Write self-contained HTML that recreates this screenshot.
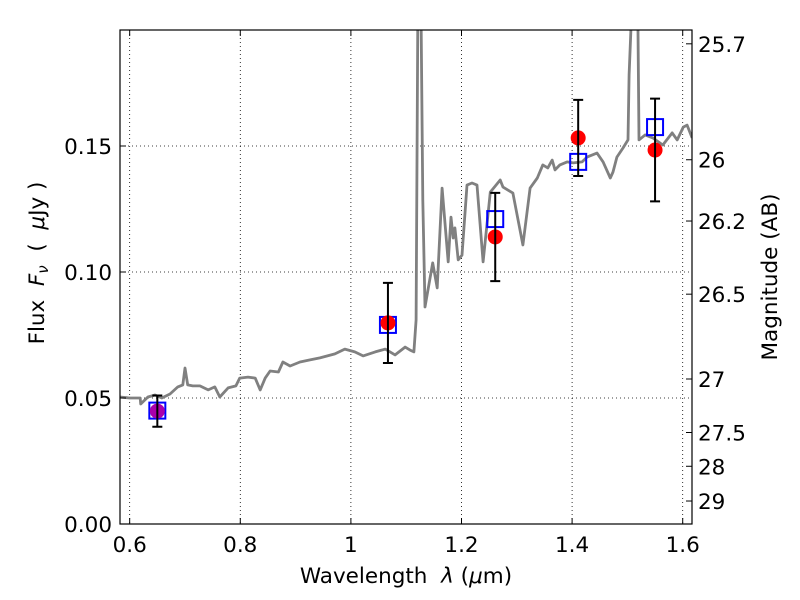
<!DOCTYPE html>
<html><head><meta charset="utf-8"><style>
html,body{margin:0;padding:0;background:#fff;}
svg{display:block;font-family:"DejaVu Sans","Liberation Sans",sans-serif;}
</style></head><body>
<svg id="chart" width="800" height="600" viewBox="0 0 800 600">
<defs><clipPath id="clip"><rect x="120" y="30" width="572" height="494"/></clipPath></defs>
<rect x="0" y="0" width="800" height="600" fill="#fff"/>
<g id="grid"></g>
<g id="spec" clip-path="url(#clip)"></g>
<g id="phot"></g>
<rect x="120" y="30" width="572" height="494" fill="none" stroke="#000" stroke-width="1.2"/>
<g id="axes"></g>
<text x="44" y="263" font-size="21.5" text-anchor="middle" xml:space="preserve" style="white-space:pre" transform="rotate(-90 44 263)">Flux  <tspan font-style="italic">F</tspan><tspan font-style="italic" font-size="15" dy="4">ν</tspan><tspan dy="-4">  (  </tspan><tspan font-style="italic">μ</tspan>Jy )</text>
<text x="406" y="583" font-size="21.5" text-anchor="middle" xml:space="preserve" style="white-space:pre">Wavelength  <tspan font-style="italic">λ</tspan> (<tspan font-style="italic">μ</tspan>m)</text>
<text x="777" y="277" font-size="21.5" text-anchor="middle" transform="rotate(-90 777 277)">Magnitude (AB)</text>
</svg>
<script>
const specLam=[0.582,0.600,0.619,0.620,0.633,0.646,0.658,0.673,0.687,0.696,0.700,0.705,0.714,0.727,0.742,0.754,0.763,0.778,0.792,0.799,0.814,0.827,0.836,0.845,0.854,0.869,0.877,0.890,0.908,0.926,0.944,0.971,0.989,1.007,1.022,1.044,1.062,1.080,1.098,1.107,1.114,1.118,1.121,1.127,1.130,1.134,1.148,1.156,1.165,1.176,1.181,1.185,1.188,1.194,1.201,1.210,1.219,1.228,1.239,1.252,1.270,1.275,1.293,1.311,1.324,1.337,1.347,1.356,1.364,1.369,1.378,1.391,1.402,1.418,1.427,1.445,1.456,1.469,1.474,1.481,1.492,1.501,1.503,1.507,1.519,1.521,1.532,1.546,1.564,1.581,1.590,1.601,1.608,1.617];
const specFlux=[0.0504,0.0500,0.0500,0.0476,0.0504,0.0512,0.0500,0.0516,0.0544,0.0552,0.0619,0.0552,0.0548,0.0548,0.0532,0.0544,0.0504,0.0540,0.0548,0.0579,0.0583,0.0579,0.0532,0.0579,0.0607,0.0603,0.0643,0.0627,0.0643,0.0651,0.0659,0.0675,0.0694,0.0683,0.0667,0.0683,0.0694,0.0671,0.0702,0.0690,0.0683,0.0810,0.200,0.200,0.1286,0.0861,0.1036,0.0937,0.1333,0.1040,0.1218,0.1135,0.1175,0.1048,0.1067,0.1345,0.1353,0.1345,0.1040,0.1317,0.1365,0.1337,0.1313,0.1107,0.1333,0.1373,0.1425,0.1413,0.1444,0.1405,0.1425,0.1437,0.1433,0.1437,0.1456,0.1472,0.1437,0.1373,0.1397,0.1456,0.1492,0.1524,0.1782,0.200,0.200,0.1524,0.1544,0.1532,0.1504,0.1552,0.1524,0.1575,0.1583,0.1532];
const photLam=[0.650,1.067,1.261,1.411,1.550];
const obsFlux=[0.0448,0.0798,0.1139,0.1532,0.1484];
const obsErr=[0.0062,0.0159,0.0175,0.0151,0.0204];
const modelFlux=[0.0450,0.0790,0.1210,0.1437,0.1575];
const obsColors=['#aa00aa','#ff0000','#ff0000','#ff0000','#ff0000'];
const xTicks=[0.6,0.8,1.0,1.2,1.4,1.6];
const xTickLabels=['0.6','0.8','1','1.2','1.4','1.6'];
const yTicks=[0,0.05,0.10,0.15];
const yTickLabels=['0.00','0.05','0.10','0.15'];
const magTicks=[25.7,26,26.2,26.5,27,27.5,28,29];
const magLabels=['25.7','26','26.2','26.5','27','27.5','28','29'];

const X0=120,X1=692,Y0=30,Y1=524;
const xMin=0.5825,xMax=1.6168,yMin=0,yMax=0.19603;
const sx=v=>X0+(v-xMin)/(xMax-xMin)*(X1-X0);
const sy=v=>Y1-(v-yMin)/(yMax-yMin)*(Y1-Y0);
const magToFlux=m=>Math.pow(10,(23.9-m)/2.5);
const NS='http://www.w3.org/2000/svg';
function mk(tag,attrs,parent){const e=document.createElementNS(NS,tag);for(const k in attrs)e.setAttribute(k,attrs[k]);parent.appendChild(e);return e;}
const grid=document.getElementById('grid'),axes=document.getElementById('axes'),spec=document.getElementById('spec'),phot=document.getElementById('phot');

xTicks.forEach((t,i)=>{
  const x=sx(t);
  const g=mk('line',{x1:x,x2:x,y1:Y0,y2:Y1,stroke:'#000','stroke-width':0.8,'stroke-dasharray':'1,3'},grid);
  
  
  const a=mk('line',{x1:x,x2:x,y1:Y1,y2:Y1-6,stroke:'#000','stroke-width':1},axes);
  
  
  const b=mk('line',{x1:x,x2:x,y1:Y0,y2:Y0+6,stroke:'#000','stroke-width':1},axes);
  
  
  const l=mk('text',{x:x,y:552,'font-size':21.5,'text-anchor':'middle'},axes);
  l.textContent=xTickLabels[i];
  
  
});
yTicks.forEach((t,i)=>{
  const y=sy(t);
  if(t>0){
    const g=mk('line',{x1:X0,x2:X1,y1:y,y2:y,stroke:'#000','stroke-width':0.8,'stroke-dasharray':'1,3'},grid);
    
    
  }
  const a=mk('line',{x1:X0,x2:X0+6,y1:y,y2:y,stroke:'#000','stroke-width':1},axes);
  
  
  const l=mk('text',{x:112,y:y+8,'font-size':21.5,'text-anchor':'end'},axes);
  l.textContent=yTickLabels[i];
  
  
});
magTicks.forEach((m,i)=>{
  const y=sy(magToFlux(m));
  const a=mk('line',{x1:X1,x2:X1-6,y1:y,y2:y,stroke:'#000','stroke-width':1},axes);
  
  
  const l=mk('text',{x:698,y:y+8,'font-size':21.5},axes);
  l.textContent=magLabels[i];
  
  
});
const pts=specLam.map((v,i)=>sx(v).toFixed(1)+','+sy(specFlux[i]).toFixed(1)).join(' ');
const pl=mk('polyline',{points:pts,fill:'none',stroke:'#808080','stroke-width':2.8,'stroke-linejoin':'round'},spec);



photLam.forEach((l,i)=>{
  const x=sx(l);
  const sq=mk('rect',{x:x-8,y:sy(modelFlux[i])-8,width:16,height:16,fill:'none',stroke:'#0000ff','stroke-width':2},phot);
  
  
  const c=mk('circle',{cx:x,cy:sy(obsFlux[i]),r:7.5,fill:obsColors[i]},phot);
  
  
  const yt=sy(obsFlux[i]+obsErr[i]),yb=sy(obsFlux[i]-obsErr[i]);
  const e=mk('path',{d:`M${x},${yt}V${yb}M${x-5},${yt}H${x+5}M${x-5},${yb}H${x+5}`,stroke:'#000','stroke-width':2,fill:'none'},phot);
  
  
});
</script>
</body></html>
